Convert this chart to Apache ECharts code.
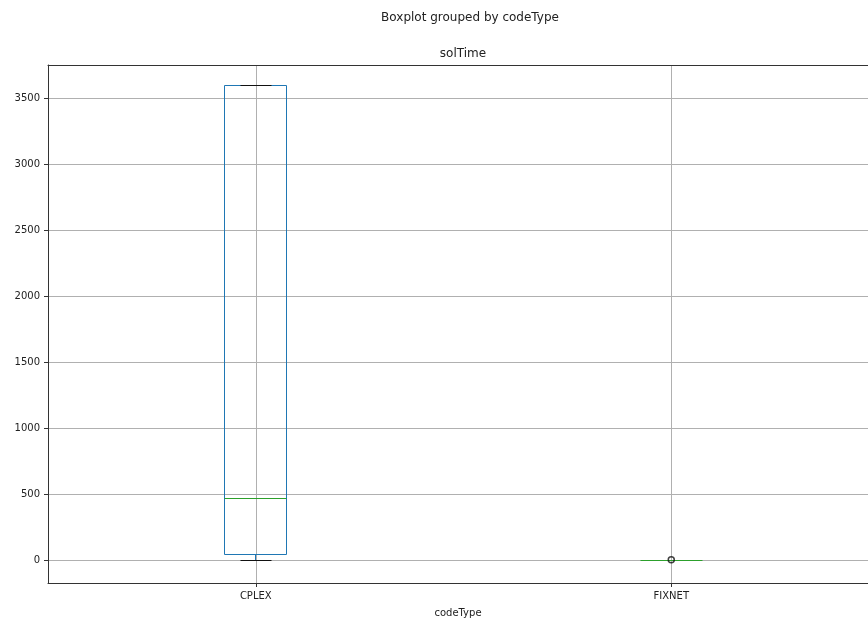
<!DOCTYPE html>
<html>
<head>
<meta charset="utf-8">
<script src="https://cdn.jsdelivr.net/npm/echarts@6/dist/echarts.min.js"></script>
<style>html,body{margin:0;padding:0;background:#fff}#c{width:868px;height:622px}</style>
</head>
<body>
<div id="c"></div>
<script>
// ---- data ----
const categories = ['CPLEX', 'FIXNET'];
const whiskerLow = [0, 0];
const q1 = [38, 0];
const medians = [465, 0];
const q3 = [3600, 0];
const whiskerHigh = [3600, 0];
const outliers = [[2, 1]]; // [category position, value]
const yTicks = [0, 500, 1000, 1500, 2000, 2500, 3000, 3500];
const xTicks = [1, 2];

const FONT = 'DejaVu Sans';
const boxData = categories.map((c, i) => [i + 1, whiskerLow[i], q1[i], medians[i], q3[i], whiskerHigh[i]]);

const chart = echarts.init(document.getElementById('c'), null, {renderer: 'canvas'});
chart.setOption({
  animation: false,
  backgroundColor: '#fff',
  title: [
    {text: 'Boxplot grouped by codeType', left: 465, top: 7, textAlign: 'center',
     textStyle: {fontFamily: FONT, fontSize: 12, fontWeight: 'normal', color: '#222'}},
    {text: 'solTime', left: 458, top: 43, textAlign: 'center',
     textStyle: {fontFamily: FONT, fontSize: 12, fontWeight: 'normal', color: '#222'}}
  ],
  grid: {left: 48, top: 65, right: 0, bottom: 39, show: false, containLabel: false, outerBoundsMode: 'none'},
  xAxis: [{
    type: 'value', min: 0.5, max: 2.4735,
    name: 'codeType', nameLocation: 'middle', nameGap: 25,
    nameTextStyle: {fontFamily: FONT, fontSize: 10, color: '#222'},
    axisLine: {show: true, onZero: false, lineStyle: {color: '#333', width: 1}},
    axisTick: {show: true, length: 4, customValues: xTicks, lineStyle: {color: '#333'}},
    axisLabel: {customValues: xTicks, margin: 8, fontFamily: FONT, fontSize: 10, color: '#222',
      formatter: v => categories[Math.round(v) - 1] || ''},
    splitLine: {show: true, lineStyle: {color: '#b0b0b0', width: 1}}
  }, {
    type: 'value', min: 0.5, max: 2.4735, position: 'top',
    axisLine: {show: true, onZero: false, lineStyle: {color: '#333', width: 1}},
    axisTick: {show: false}, axisLabel: {show: false}, splitLine: {show: false}
  }],
  yAxis: {
    type: 'value', min: -174.5, max: 3756,
    axisLine: {show: true, onZero: false, lineStyle: {color: '#333', width: 1}},
    axisTick: {show: true, length: 4, customValues: yTicks, lineStyle: {color: '#333'}},
    axisLabel: {customValues: yTicks, margin: 8, fontFamily: FONT, fontSize: 10, color: '#222',
      formatter: v => String(v)},
    splitLine: {show: true, lineStyle: {color: '#b0b0b0', width: 1}}
  },
  series: [
    {
      type: 'custom',
      data: boxData,
      clip: false,
      renderItem: function (params, api) {
        const x = api.value(0);
        const lo = api.value(1), b1 = api.value(2), med = api.value(3), b3 = api.value(4), hi = api.value(5);
        const hw = 0.075, cw = 0.0375;
        const px = v => Math.round(v - 0.5) + 0.5;
        const P = (xx, yy) => { const c = api.coord([xx, yy]); return [px(c[0]), px(c[1])]; };
        const line = (a, b, color) => ({
          type: 'line', shape: {x1: a[0], y1: a[1], x2: b[0], y2: b[1]},
          style: {stroke: color, lineWidth: 1}
        });
        const blue = '#1f77b4', green = '#2ca02c', black = '#111';
        const tl = P(x - hw, b3), br = P(x + hw, b1);
        const kids = [];
        if (br[1] - tl[1] > 0.5) {
          kids.push({type: 'rect', shape: {x: tl[0], y: tl[1], width: br[0] - tl[0], height: br[1] - tl[1]},
             style: {fill: 'none', stroke: blue, lineWidth: 1}});
          kids.push(line(P(x, b1), P(x, lo), blue));
          kids.push(line(P(x, b3), P(x, hi), blue));
          kids.push(line(P(x - cw, lo), P(x + cw, lo), black));
          kids.push(line(P(x - cw, hi), P(x + cw, hi), black));
        }
        kids.push(line(P(x - hw, med), P(x + hw, med), green));
        return {type: 'group', children: kids};
      }
    },
    {
      type: 'scatter',
      data: outliers,
      symbol: 'circle',
      symbolSize: 6,
      z: 5,
      itemStyle: {color: 'rgba(0,0,0,0)', borderColor: '#111', borderWidth: 1.5}
    }
  ]
});
</script>
</body>
</html>
